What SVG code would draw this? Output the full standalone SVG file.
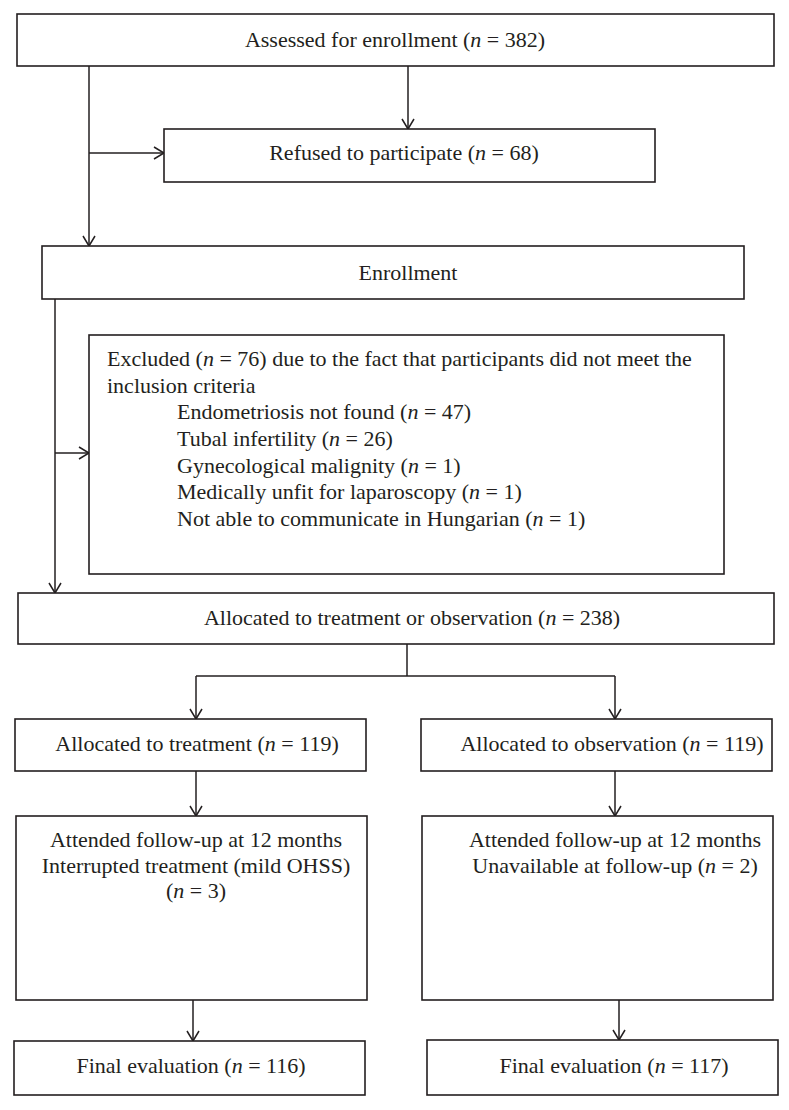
<svg xmlns="http://www.w3.org/2000/svg" width="789" height="1110" viewBox="0 0 789 1110">
<defs>
<style>
.box{fill:#fff;stroke:#231f20;stroke-width:1.6}
.ln{fill:none;stroke:#231f20;stroke-width:1.5}
text{font-family:"Liberation Serif","Times New Roman",serif;font-size:22px;fill:#231f20}
.c{text-anchor:middle}
.i{font-style:italic}
</style>
<marker id="ah" markerUnits="userSpaceOnUse" markerWidth="14" markerHeight="14" viewBox="-12 -7 14 14" refX="0" refY="0" orient="auto">
<path d="M-10,-6 L0,0 L-10,6" fill="none" stroke="#231f20" stroke-width="1.5"/>
</marker>
</defs>
<rect width="789" height="1110" fill="#fff"/>
<g id="connectors">
<line class="ln" x1="408" y1="66" x2="408" y2="129" marker-end="url(#ah)"/>
<line class="ln" x1="89" y1="66" x2="89" y2="246" marker-end="url(#ah)"/>
<line class="ln" x1="89" y1="153" x2="164" y2="153" marker-end="url(#ah)"/>
<line class="ln" x1="55" y1="299" x2="55" y2="593" marker-end="url(#ah)"/>
<line class="ln" x1="55" y1="453" x2="89" y2="453" marker-end="url(#ah)"/>
<polyline class="ln" points="407,644 407,676"/>
<polyline class="ln" points="196,676 615,676"/>
<line class="ln" x1="196" y1="676" x2="196" y2="719" marker-end="url(#ah)"/>
<line class="ln" x1="615" y1="676" x2="615" y2="719" marker-end="url(#ah)"/>
<line class="ln" x1="196" y1="771" x2="196" y2="816" marker-end="url(#ah)"/>
<line class="ln" x1="615" y1="771" x2="615" y2="816" marker-end="url(#ah)"/>
<line class="ln" x1="193" y1="1000" x2="193" y2="1041" marker-end="url(#ah)"/>
<line class="ln" x1="619" y1="1000" x2="619" y2="1040" marker-end="url(#ah)"/>
</g>
<g id="assessed">
<rect class="box" x="17" y="14" width="757" height="52"/>
<text class="c" x="395" y="47">Assessed for enrollment (<tspan class="i">n</tspan> = 382)</text>
</g>
<g id="refused">
<rect class="box" x="164" y="129" width="491" height="53"/>
<text class="c" x="404" y="160">Refused to participate (<tspan class="i">n</tspan> = 68)</text>
</g>
<g id="enrollment">
<rect class="box" x="42" y="246" width="702" height="53"/>
<text class="c" x="408" y="280">Enrollment</text>
</g>
<g id="excluded">
<rect class="box" x="89" y="335" width="635" height="239"/>
<text x="107" y="366">Excluded (<tspan class="i">n</tspan> = 76) due to the fact that participants did not meet the</text>
<text x="107" y="393">inclusion criteria</text>
<text x="177" y="419">Endometriosis not found (<tspan class="i">n</tspan> = 47)</text>
<text x="177" y="446">Tubal infertility (<tspan class="i">n</tspan> = 26)</text>
<text x="177" y="473">Gynecological malignity (<tspan class="i">n</tspan> = 1)</text>
<text x="177" y="499">Medically unfit for laparoscopy (<tspan class="i">n</tspan> = 1)</text>
<text x="177" y="526">Not able to communicate in Hungarian (<tspan class="i">n</tspan> = 1)</text>
</g>
<g id="allocated">
<rect class="box" x="18" y="593" width="756" height="51"/>
<text class="c" x="412" y="625">Allocated to treatment or observation (<tspan class="i">n</tspan> = 238)</text>
</g>
<g id="treatment">
<rect class="box" x="15" y="719" width="351" height="52"/>
<text class="c" x="197" y="751">Allocated to treatment (<tspan class="i">n</tspan> = 119)</text>
</g>
<g id="observation">
<rect class="box" x="421" y="719" width="351" height="52"/>
<text class="c" x="612" y="751">Allocated to observation (<tspan class="i">n</tspan> = 119)</text>
</g>
<g id="followup-treatment">
<rect class="box" x="16" y="816" width="351" height="184"/>
<text class="c" x="196" y="847">Attended follow-up at 12 months</text>
<text class="c" x="196" y="873">Interrupted treatment (mild OHSS)</text>
<text class="c" x="196" y="898">(<tspan class="i">n</tspan> = 3)</text>
</g>
<g id="followup-observation">
<rect class="box" x="422" y="816" width="351" height="184"/>
<text class="c" x="615" y="847">Attended follow-up at 12 months</text>
<text class="c" x="615" y="873">Unavailable at follow-up (<tspan class="i">n</tspan> = 2)</text>
</g>
<g id="final-treatment">
<rect class="box" x="14" y="1041" width="351" height="54"/>
<text class="c" x="191" y="1073">Final evaluation (<tspan class="i">n</tspan> = 116)</text>
</g>
<g id="final-observation">
<rect class="box" x="427" y="1040" width="351" height="55"/>
<text class="c" x="614" y="1073">Final evaluation (<tspan class="i">n</tspan> = 117)</text>
</g>
</svg>
